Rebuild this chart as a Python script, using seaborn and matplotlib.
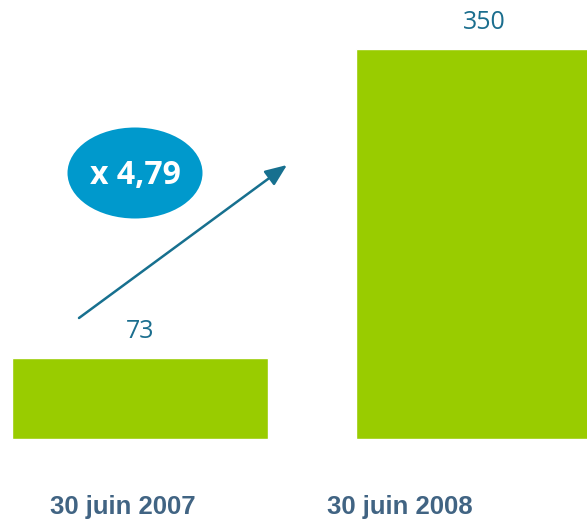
import matplotlib
matplotlib.use("Agg")
import matplotlib.pyplot as plt
from matplotlib.patches import Ellipse
import seaborn as sns
import pandas as pd

# data
dates = ["30 juin 2007", "30 juin 2008"]
values = [73, 350]
ratio_label = "x 4,79"

green = "#99CC00"
teal = "#1B6E8E"
slate = "#416483"
blue = "#0099CC"

sns.set_theme(style="white")
plt.rcParams["font.family"] = ["Liberation Sans", "DejaVu Sans"]

W, H = 587, 526
fig = plt.figure(figsize=(W / 100, H / 100), dpi=100)
ax = fig.add_axes([0, 0, 1, 1])

df = pd.DataFrame({"date": dates, "value": values})
sns.barplot(data=df, x="date", y="value", color=green, saturation=1,
            width=0.744, ax=ax)

ax.set_xlim(-0.407, 1.299)
ax.set_ylim(-78.2, 394)
ax.set_axis_off()


def fx(px):
    return px / W


def fy(py):
    return 1 - py / H


# value labels above bars
for i, v in enumerate(values):
    ax.annotate(str(v), xy=(i, v), xytext=(0, 10), textcoords="offset points",
                ha="center", va="bottom", fontsize=18, color=teal,
                family=["Open Sans", "DejaVu Sans"])

# date labels under bars
for px, d in zip([123, 400], dates):
    ax.text(fx(px), fy(507), d, transform=ax.transAxes, ha="center",
            va="center", fontsize=18.5, fontweight="bold", color=slate)

# growth arrow
ax.annotate("", xy=(fx(287), fy(165)), xytext=(fx(79), fy(318)),
            xycoords="axes fraction", textcoords="axes fraction",
            arrowprops=dict(arrowstyle="-|>,head_length=1.1,head_width=0.45",
                            color="#17708F", lw=1.8, shrinkA=0, shrinkB=0))

# ratio ellipse
ell = Ellipse((fx(135), fy(173)), width=135 / W, height=91 / H,
              transform=ax.transAxes, facecolor=blue, edgecolor="none")
ax.add_patch(ell)
ax.text(fx(135), fy(175), ratio_label, transform=ax.transAxes, ha="center",
        va="center", fontsize=23, fontweight="bold", color="white",
        family=["Open Sans", "DejaVu Sans"])

fig.savefig("out.png", dpi=100)
